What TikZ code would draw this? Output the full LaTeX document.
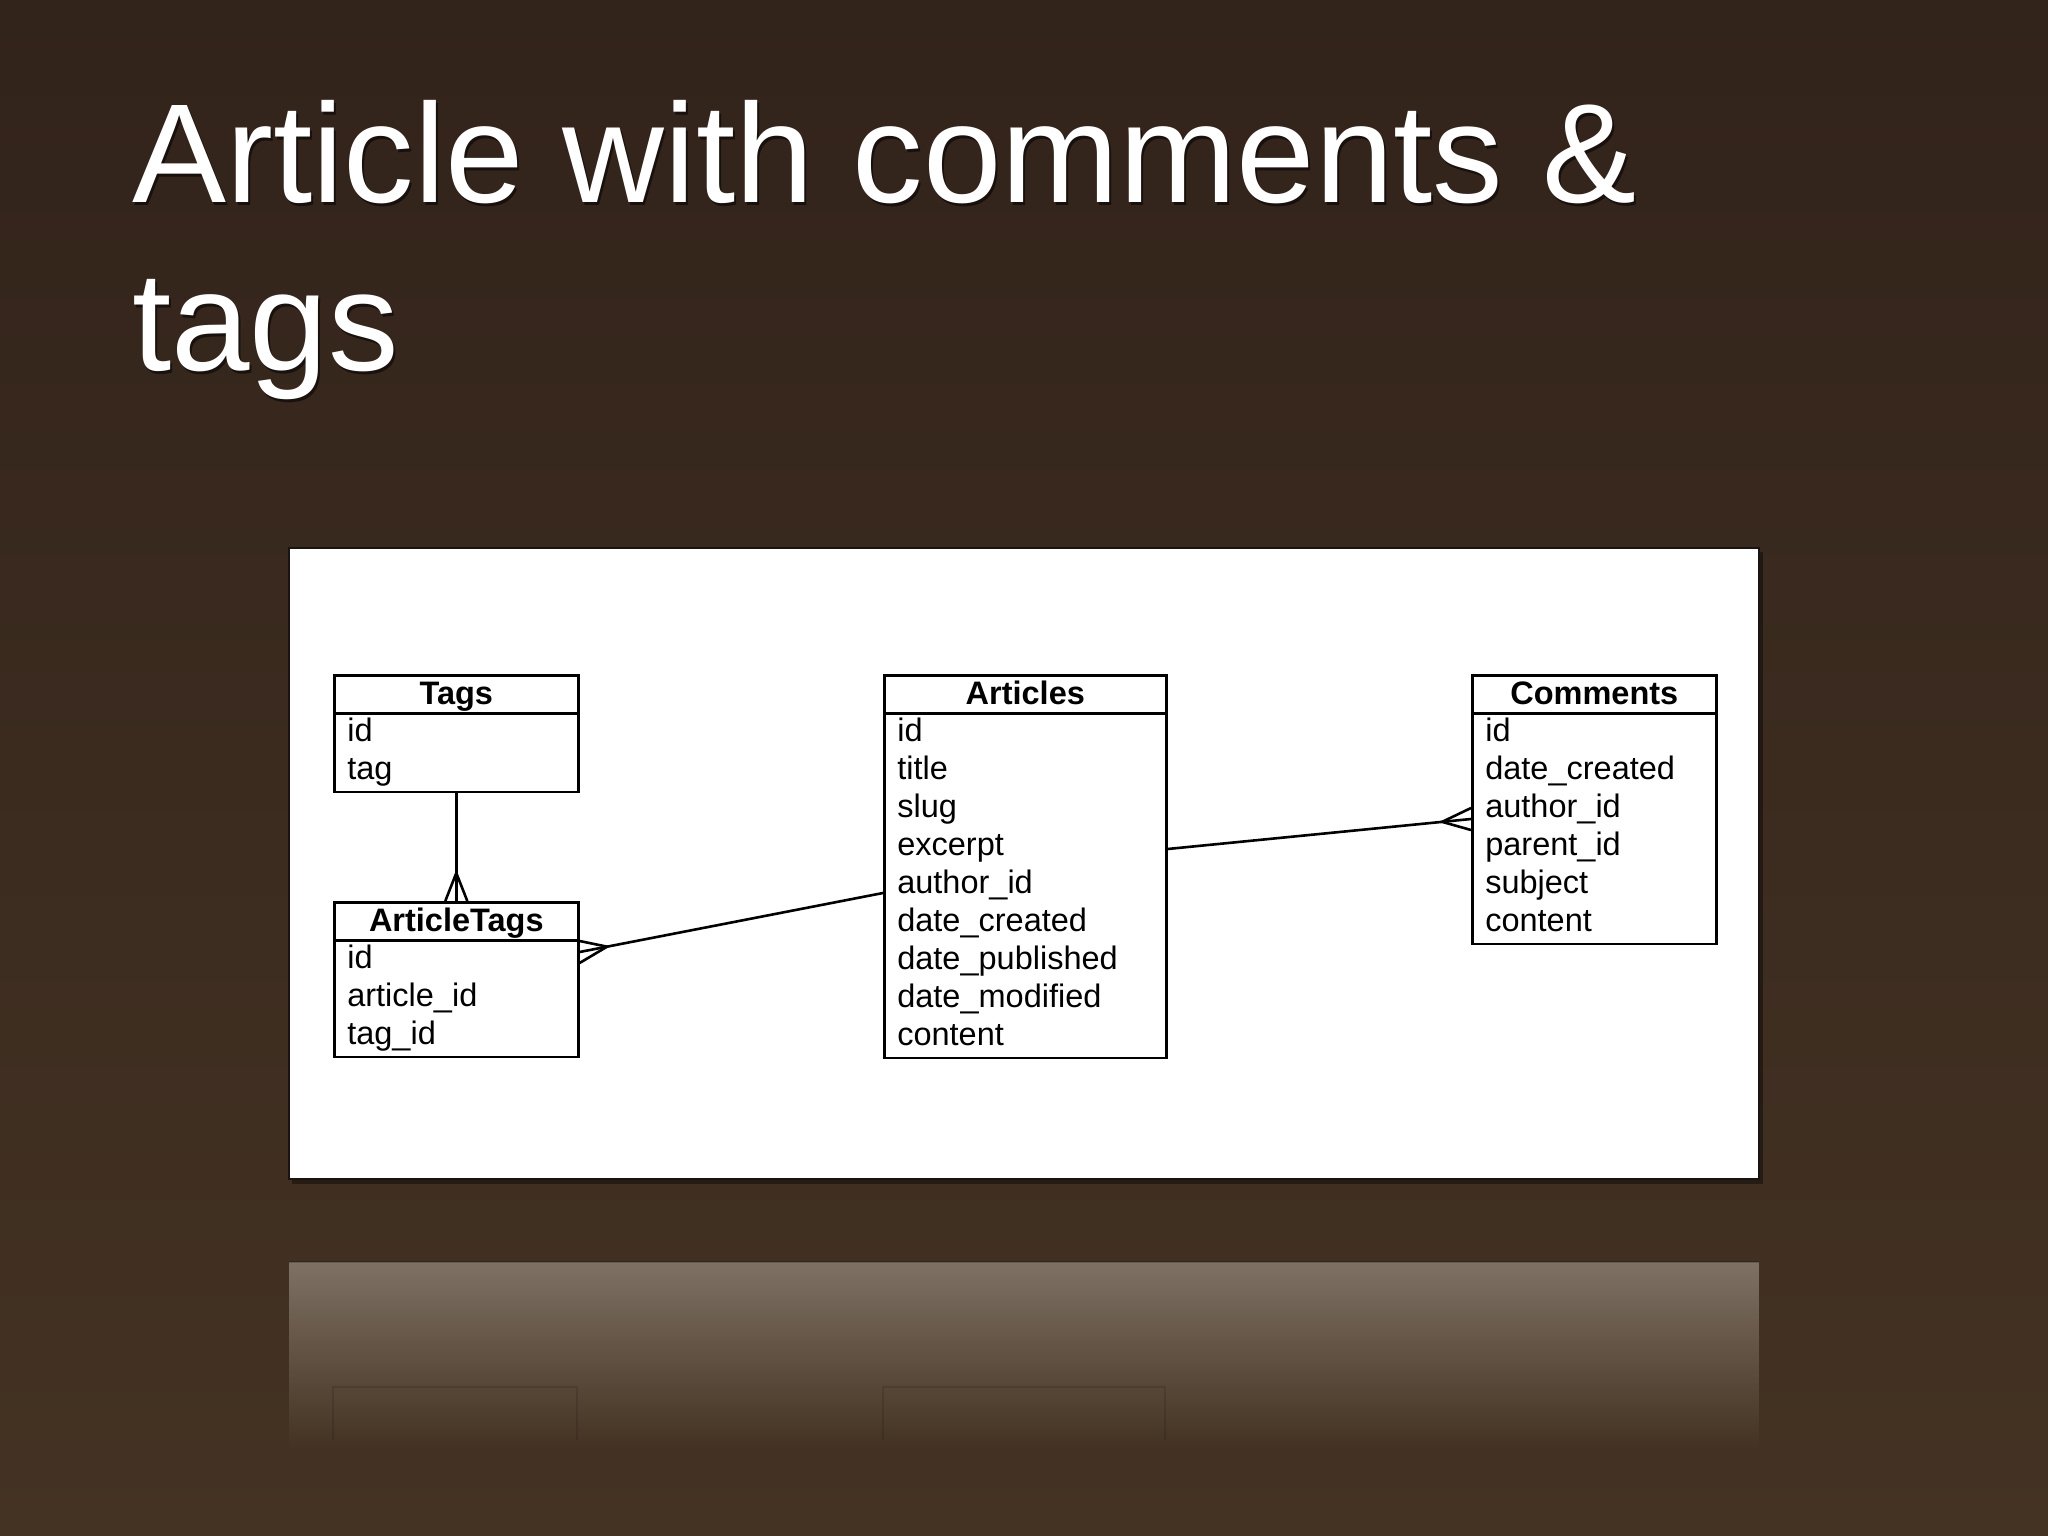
\documentclass[tikz,border=0pt]{standalone}
\usepackage{fontspec}
\setmainfont{Liberation Sans}
\usetikzlibrary{shapes.multipart,calc,fadings}

\definecolor{bgtop}{RGB}{50,35,27}
\definecolor{bgbot}{RGB}{68,51,35}
\definecolor{reftop}{RGB}{136,123,109}
\definecolor{edge}{RGB}{25,20,18}

\newcommand{\hdr}[1]{\makebox[\linewidth][c]{\bfseries\rule[-7.6pt]{0pt}{35.4pt}#1}}

\tikzfading[name=reflfade, top color=transparent!0, bottom color=transparent!100]

\tikzset{
    entity/.style={rectangle split, rectangle split parts=2, draw=black,
        line width=2.6pt, fill=white, inner xsep=13pt, inner ysep=0pt,
        anchor=north west, font=\fontsize{32.5}{38}\selectfont},
    conn/.style={line width=2.6pt, line join=miter},
    ttl/.style={anchor=base west, inner sep=0pt, text=white,
        font=\fontsize{141}{168}\selectfont},
    ttlshadow/.style={ttl, text=black, text opacity=0.55},
}

\begin{document}
\begin{tikzpicture}[x=1pt, y=-1pt]
    \useasboundingbox (0,0) rectangle (2048,1536);
    % slide background
    \shade[top color=bgtop, bottom color=bgbot] (0,0) rectangle (2048,1536);

    % title
    \node[ttlshadow] (ttl1s) at (134,205) {Article with comments \&};
    \node[ttlshadow] (ttl2s) at (134,373) {tags};
    \node[ttl] (ttl1) at (132,202) {Article with comments \&};
    \node[ttl] (ttl2) at (132,370) {tags};

    % white panel and its reflection
    \fill[black, opacity=0.4] (292,552) rectangle (1763,1184);
    \draw[fill=white, draw=edge, line width=2pt] (289,548) rectangle (1759,1179);
    \fill[reftop, path fading=reflfade, fill opacity=0.88] (289,1262) rectangle (1759,1450);
    \draw[black, opacity=0.2, line width=1.5pt] (289,1262) -- (1759,1262);
    \draw[black, opacity=0.12, line width=2pt] (333,1440) -- (333,1387) -- (577,1387) -- (577,1440);
    \draw[black, opacity=0.12, line width=2pt] (883,1440) -- (883,1387) -- (1165,1387) -- (1165,1440);

    % tables
    \node[entity, text width=218pt] (tags) at (333,674)
        {\hdr{Tags}\nodepart{two}\strut id\\\strut tag};
    \node[entity, text width=218pt] (atags) at (333,901)
        {\hdr{ArticleTags}\nodepart{two}\strut id\\\strut article\_id\\\strut tag\_id};
    \node[entity, text width=256pt] (arts) at (883,674)
        {\hdr{Articles}\nodepart{two}\strut id\\\strut title\\\strut slug\\\strut excerpt\\\strut author\_id\\\strut date\_created\\\strut date\_published\\\strut date\_modified\\\strut content};
    \node[entity, text width=218pt] (cmts) at (1471,674)
        {\hdr{Comments}\nodepart{two}\strut id\\\strut date\_created\\\strut author\_id\\\strut parent\_id\\\strut subject\\\strut content};

    % Tags -< ArticleTags
    \coordinate (pt) at ($(atags.north)!28pt!(tags.south)$);
    \draw[conn] (tags.south) -- (atags.north);
    \draw[conn] ($(atags.north)+(-11,0)$) -- (pt) -- ($(atags.north)+(11,0)$);

    % Articles -< ArticleTags
    \coordinate (fa) at ($(atags.north east)+(0,51)$);
    \coordinate (aw) at ($(arts.north west)+(0,219)$);
    \coordinate (pa) at ($(fa)!28pt!(aw)$);
    \draw[conn] (aw) -- (fa);
    \draw[conn] ($(fa)+(0,-11)$) -- (pa) -- ($(fa)+(0,11)$);

    % Articles -< Comments
    \coordinate (fc) at ($(cmts.north west)+(0,145)$);
    \coordinate (ae) at ($(arts.north east)+(0,175)$);
    \coordinate (pc) at ($(fc)!29pt!(ae)$);
    \draw[conn] (ae) -- (fc);
    \draw[conn] ($(fc)+(0,-11)$) -- (pc) -- ($(fc)+(0,11)$);
\end{tikzpicture}
\end{document}
